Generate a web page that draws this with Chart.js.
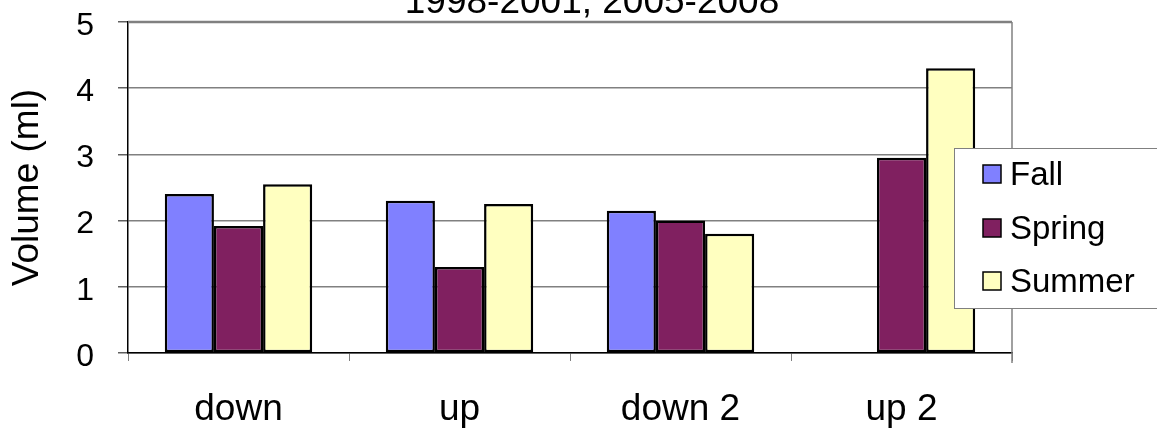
<!DOCTYPE html>
<html>
<head>
<meta charset="utf-8">
<script src="https://cdn.jsdelivr.net/npm/chart.js@4.4.1/dist/chart.umd.min.js"></script>
<style>
  html, body { margin: 0; padding: 0; background: #ffffff; }
  #wrap { width: 1157px; height: 431px; }
</style>
</head>
<body>
<div id="wrap"><canvas id="chart" width="1157" height="431"></canvas></div>
<script>
// Mean volume per group and season
const categories = ['down', 'up', 'down 2', 'up 2'];
const fallValues = [2.40, 2.30, 2.15, null];
const springValues = [1.92, 1.30, 2.00, 2.95];
const summerValues = [2.55, 2.25, 1.80, 4.30];
const yTickValues = [0, 1, 2, 3, 4, 5];
const seriesNames = ['Fall', 'Spring', 'Summer'];
const chartTitle = '1998-2001, 2005-2008';
const yAxisTitle = 'Volume (ml)';

const FONT = "'Liberation Sans', Arial, Helvetica, sans-serif";
const seriesColors = ['#8080ff', '#802060', '#ffffc0'];
const seriesValues = [fallValues, springValues, summerValues];

// Title, plot frame and legend box drawn on the canvas
const decorations = {
  id: 'decorations',
  beforeDatasetsDraw(chart) {
    const { ctx, chartArea } = chart;
    ctx.save();
    ctx.strokeStyle = '#808080';
    ctx.lineWidth = 1.5;
    ctx.beginPath();
    ctx.moveTo(Math.round(chartArea.right), chartArea.top);
    ctx.lineTo(Math.round(chartArea.right), chartArea.bottom + 10);
    ctx.stroke();
    ctx.beginPath();
    ctx.moveTo(chartArea.left, chartArea.top);
    ctx.lineTo(chartArea.right, chartArea.top);
    ctx.lineWidth = 2.5;
    ctx.stroke();
    ctx.restore();
  },
  afterDraw(chart) {
    const { ctx } = chart;
    ctx.save();
    // Title
    ctx.fillStyle = '#000000';
    ctx.font = '37px ' + FONT;
    ctx.textAlign = 'center';
    ctx.textBaseline = 'alphabetic';
    ctx.fillText(chartTitle, 592, 13);

    // Legend
    const box = { x: 954.5, y: 148.5, w: 220, h: 160 };
    ctx.fillStyle = '#ffffff';
    ctx.fillRect(box.x, box.y, box.w, box.h);
    ctx.strokeStyle = '#808080';
    ctx.lineWidth = 1;
    ctx.strokeRect(box.x, box.y, box.w, box.h);
    const baselines = [185, 239, 292];
    ctx.font = '33px ' + FONT;
    ctx.textAlign = 'left';
    seriesNames.forEach((name, i) => {
      const b = baselines[i];
      ctx.fillStyle = seriesColors[i];
      ctx.fillRect(983, b - 20, 18, 18);
      ctx.strokeStyle = '#000000';
      ctx.lineWidth = 1.5;
      ctx.strokeRect(983, b - 20, 18, 18);
      ctx.fillStyle = '#000000';
      ctx.fillText(name, 1010, b);
    });
    ctx.restore();
  }
};

new Chart(document.getElementById('chart'), {
  type: 'bar',
  data: {
    labels: categories,
    datasets: seriesNames.map((name, i) => ({
      label: name,
      data: seriesValues[i],
      backgroundColor: seriesColors[i],
      borderColor: '#000000',
      borderWidth: 2.5,
      borderSkipped: false,
      barPercentage: 1.0,
      categoryPercentage: 0.667
    }))
  },
  options: {
    responsive: false,
    animation: false,
    devicePixelRatio: 1,
    layout: { padding: { top: 22, right: 145, left: 0, bottom: 0 } },
    plugins: {
      legend: { display: false },
      title: { display: false },
      tooltip: { enabled: false }
    },
    scales: {
      x: {
        grid: {
          offset: true,
          drawOnChartArea: false,
          drawTicks: true,
          tickLength: 8,
          tickColor: '#808080',
          color: '#808080'
        },
        border: { color: '#000000', width: 1.5 },
        ticks: {
          color: '#000000',
          font: { family: FONT, size: 37 },
          padding: 27,
          maxRotation: 0
        },
        afterFit(scale) {
          scale.height = 78;
          scale.paddingLeft = 0;
          scale.paddingRight = 0;
        }
      },
      y: {
        min: 0,
        max: 5,
        afterBuildTicks(scale) { scale.ticks = yTickValues.map(v => ({ value: v })); },
        grid: {
          color: '#808080',
          lineWidth: 1.5,
          tickLength: 10,
          tickColor: '#606060'
        },
        border: { color: '#000000', width: 1.5 },
        ticks: {
          color: '#000000',
          font: { family: FONT, size: 32 },
          padding: 24,
          labelOffset: 4
        },
        title: {
          display: true,
          text: yAxisTitle,
          color: '#000000',
          font: { family: FONT, size: 37 },
          padding: { top: 6, bottom: 0 }
        },
        afterFit(scale) {
          scale.width = 128;
          scale.paddingTop = 0;
          scale.paddingBottom = 0;
        }
      }
    }
  },
  plugins: [decorations]
});
</script>
</body>
</html>
